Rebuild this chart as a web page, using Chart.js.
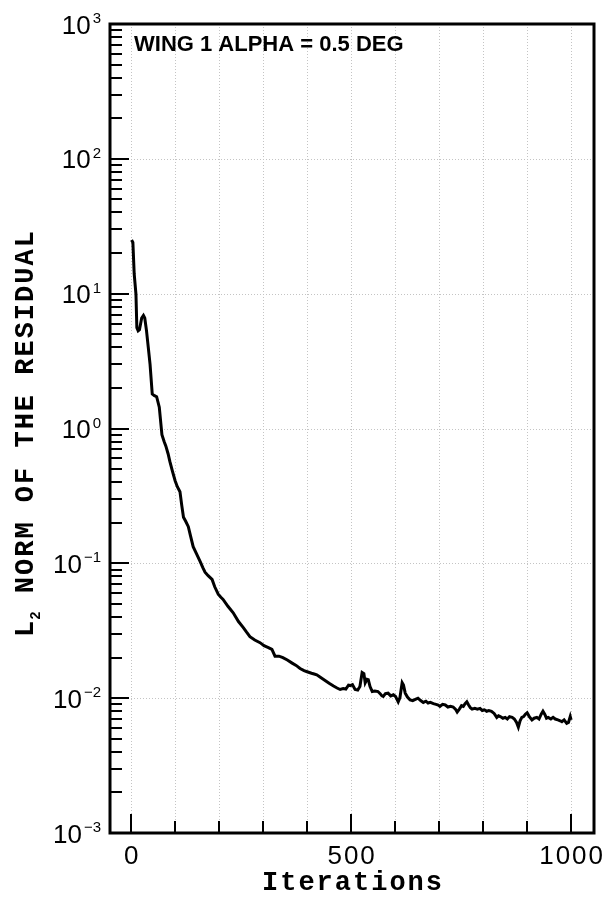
<!DOCTYPE html>
<html>
<head>
<meta charset="utf-8">
<script src="https://cdn.jsdelivr.net/npm/chart.js@4"></script>
<style>
  body { margin: 0; background: #fff; }
  #chart { display: block; }
</style>
</head>
<body>
<canvas id="chart" width="609" height="897"></canvas>
<script>
// convergence history
const iterations = [
  1, 4, 7, 11, 13, 16, 19, 24, 28, 31, 35, 39, 43, 48, 53, 58, 64, 70, 75, 79,
  84, 88, 94, 100, 105, 111, 115, 119, 124, 130, 135, 141, 149, 157, 163, 168, 175, 184, 190, 198,
  204, 209, 220, 232, 244, 255, 262, 270, 281, 293, 302, 312, 320, 327, 336, 345, 355, 366, 375, 384,
  393, 400, 410, 416, 422, 430, 440, 450, 460, 468, 475, 482, 488, 494, 498, 503, 509, 515, 520, 525,
  529, 532, 536, 539, 543, 548, 554, 561, 566, 570, 573, 578, 584, 590, 596, 601, 607, 611, 614, 616,
  619, 623, 628, 634, 640, 646, 652, 658, 664, 670, 675, 680, 687, 693, 698, 702, 708, 714, 720, 726,
  732, 737, 741, 746, 751, 755, 759, 763, 767, 771, 775, 781, 787, 793, 798, 803, 808, 813, 819, 825,
  831, 835, 839, 845, 850, 855, 860, 866, 871, 876, 880, 884, 888, 892, 896, 900, 905, 911, 916, 922,
  927, 932, 936, 940, 944, 948, 954, 959, 964, 970, 975, 979, 984, 990, 994, 998, 1000
];
const residual = [
  25, 24, 14, 9.9, 5.6, 5.3, 5.4, 6.6, 6.9, 6.6, 5.3, 4.0, 3.0, 1.8, 1.75, 1.72, 1.44, 0.90, 0.80, 0.74,
  0.65, 0.57, 0.48, 0.41, 0.37, 0.34, 0.27, 0.22, 0.205, 0.187, 0.16, 0.133, 0.117, 0.103, 0.093, 0.086, 0.081, 0.076, 0.067, 0.059,
  0.056, 0.054, 0.048, 0.043, 0.037, 0.0334, 0.031, 0.0286, 0.027, 0.0258, 0.0245, 0.0237, 0.023, 0.0205, 0.0205, 0.020, 0.0192, 0.0182, 0.0175, 0.0166,
  0.016, 0.0157, 0.0153, 0.0151, 0.0149, 0.0143, 0.0136, 0.0129, 0.0123, 0.0119, 0.0116, 0.0118, 0.0117, 0.0125, 0.0124, 0.0126, 0.0116, 0.0115, 0.0122, 0.0155,
  0.0152, 0.0130, 0.0138, 0.0137, 0.0122, 0.0112, 0.0113, 0.0112, 0.0108, 0.0104, 0.0103, 0.0108, 0.0109, 0.0104, 0.0106, 0.0103, 0.0094, 0.0101, 0.0118, 0.0130,
  0.0125, 0.0109, 0.0102, 0.0097, 0.0096, 0.0098, 0.0100, 0.0096, 0.0093, 0.0095, 0.0092, 0.0093, 0.0091, 0.0090, 0.0089, 0.0087, 0.0090, 0.0089, 0.0086, 0.0087,
  0.0086, 0.0083, 0.0079, 0.0083, 0.0088, 0.0087, 0.0091, 0.0094, 0.0089, 0.0085, 0.0083, 0.0084, 0.0083, 0.0084, 0.0081, 0.0082, 0.0080, 0.0081, 0.0080, 0.0077,
  0.0072, 0.0074, 0.0073, 0.0071, 0.0072, 0.0070, 0.0073, 0.0072, 0.0070, 0.0066, 0.0061, 0.0068, 0.0072, 0.0073, 0.0076, 0.0078, 0.0073, 0.0069, 0.0071, 0.0072,
  0.0070, 0.0076, 0.0080, 0.0076, 0.0071, 0.0072, 0.0070, 0.0072, 0.0070, 0.0069, 0.0068, 0.0067, 0.0069, 0.0065, 0.0066, 0.0073, 0.0069
];

const xTicks = [0, 500, 1000];
const xTickLabels = ["0", "500", "1000"];
const yExponents = [-3, -2, -1, 0, 1, 2, 3];
const chartTitle = "WING 1 ALPHA = 0.5 DEG";
const xTitle = "Iterations";
const yTitle = " NORM OF THE RESIDUAL";

const frame = {
  id: "frame",
  beforeDatasetsDraw(chart) {
    const { ctx, chartArea: a, scales: { x, y } } = chart;
    ctx.save();
    ctx.strokeStyle = "#c4c4c4";
    ctx.lineWidth = 1;
    ctx.setLineDash([1, 2]);
    for (let v = 0; v <= 1000; v += 100) {
      const px = Math.round(x.getPixelForValue(v)) + 0.5;
      ctx.beginPath(); ctx.moveTo(px, a.top); ctx.lineTo(px, a.bottom); ctx.stroke();
    }
    for (let e = -2; e <= 2; e++) {
      const py = Math.round(y.getPixelForValue(Math.pow(10, e))) + 0.5;
      ctx.beginPath(); ctx.moveTo(a.left, py); ctx.lineTo(a.right, py); ctx.stroke();
    }
    ctx.restore();
  },
  afterDatasetsDraw(chart) {
    const { ctx, chartArea: a, scales: { x, y } } = chart;
    ctx.save();
    ctx.strokeStyle = "#000";
    ctx.lineWidth = 2;
    // y ticks, major and minor, pointing inward
    for (let e = -3; e <= 2; e++) {
      for (let m = 1; m <= 9; m++) {
        const py = Math.round(y.getPixelForValue(m * Math.pow(10, e)));
        const len = m === 1 ? 19 : 12;
        ctx.beginPath(); ctx.moveTo(a.left, py); ctx.lineTo(a.left + len, py); ctx.stroke();
      }
    }
    // x ticks
    for (let v = 0; v <= 1000; v += 100) {
      const px = Math.round(x.getPixelForValue(v));
      const len = v % 500 === 0 ? 19 : 12;
      ctx.beginPath(); ctx.moveTo(px, a.bottom); ctx.lineTo(px, a.bottom - len); ctx.stroke();
    }
    // box
    ctx.lineWidth = 3;
    ctx.strokeRect(a.left, a.top, a.right - a.left, a.bottom - a.top);

    ctx.fillStyle = "#000";
    // y labels 10^n
    yExponents.forEach(e => {
      const py = y.getPixelForValue(Math.pow(10, e));
      ctx.textAlign = "right";
      ctx.textBaseline = "alphabetic";
      ctx.font = "15px 'Liberation Sans', Arial, sans-serif";
      const exp = String(e).replace("-", "\u2212");
      ctx.fillText(exp, 101, py - 1);
      const w = ctx.measureText(exp).width;
      ctx.font = "26px 'Liberation Sans', Arial, sans-serif";
      ctx.fillText("10", 101 - w - 2, py + 9.5);
    });
    // x labels
    ctx.font = "26px 'Liberation Sans', Arial, sans-serif";
    ctx.letterSpacing = "2px";
    ctx.textAlign = "center";
    xTicks.forEach((v, i) => {
      ctx.fillText(xTickLabels[i], x.getPixelForValue(v) + 1, 864);
    });
    // axis titles
    ctx.font = "bold 27px 'Liberation Mono', 'Courier New', monospace";
    ctx.fillText(xTitle, (a.left + a.right) / 2 + 1, 890);

    ctx.save();
    ctx.translate(33, 637);
    ctx.rotate(-Math.PI / 2);
    ctx.textAlign = "left";
    ctx.fillText("L", 0, 0);
    const wL = ctx.measureText("L").width;
    ctx.font = "bold 14px 'Liberation Mono', 'Courier New', monospace";
    ctx.letterSpacing = "0px";
    ctx.fillText("2", wL - 1, 7);
    const w2 = ctx.measureText("2").width;
    ctx.font = "bold 27px 'Liberation Mono', 'Courier New', monospace";
    ctx.letterSpacing = "2px";
    ctx.fillText(yTitle, wL + w2 - 1, 0);
    ctx.restore();

    // chart title inside the frame
    ctx.letterSpacing = "0px";
    ctx.textAlign = "left";
    ctx.font = "bold 22px 'Liberation Sans', Arial, sans-serif";
    ctx.fillText(chartTitle, 134, 51);
    ctx.restore();
  }
};

new Chart(document.getElementById("chart"), {
  type: "line",
  data: {
    datasets: [{
      data: iterations.map((it, i) => ({ x: it, y: residual[i] })),
      borderColor: "#000",
      borderWidth: 3,
      pointRadius: 0,
      tension: 0,
      fill: false
    }]
  },
  options: {
    responsive: false,
    animation: false,
    layout: { padding: { left: 110, right: 15, top: 24, bottom: 64 } },
    plugins: { legend: { display: false }, tooltip: { enabled: false } },
    scales: {
      x: { type: "linear", min: -48, max: 1052, display: false },
      y: { type: "logarithmic", min: 1e-3, max: 1e3, display: false }
    }
  },
  plugins: [frame]
});
</script>
</body>
</html>
